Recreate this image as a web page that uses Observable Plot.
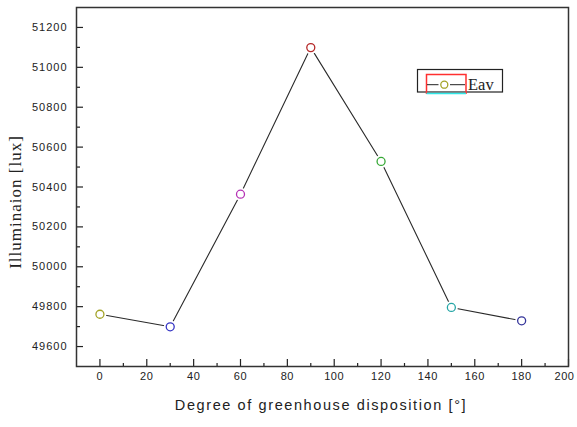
<!DOCTYPE html>
<html>
<head>
<meta charset="utf-8">
<script src="https://cdn.jsdelivr.net/npm/d3@7"></script>
<script src="https://cdn.jsdelivr.net/npm/@observablehq/plot@0.6"></script>
<style>
  html, body { margin: 0; padding: 0; background: #fff; }
  #chart { position: relative; width: 577px; height: 427px; }
  #chart svg g[aria-label="y-axis tick label"] text { letter-spacing: 1px; }
  #chart svg g[aria-label="x-axis tick label"] text { letter-spacing: 0.6px; }
</style>
</head>
<body>
<div id="chart"></div>
<script>
// Data
const degrees = [0, 30, 60, 90, 120, 150, 180];
const illumination = [49762, 49699, 50364, 51099, 50528, 49796, 49729];
const pointColors = ["#a3a326", "#3535c4", "#b532b5", "#b52828", "#36a836", "#26a6a6", "#34349a"];
const xMajorTicks = [0, 20, 40, 60, 80, 100, 120, 140, 160, 180, 200];
const xMinorTicks = [10, 30, 50, 70, 90, 110, 130, 150, 170, 190];
const yMajorTicks = [49600, 49800, 50000, 50200, 50400, 50600, 50800, 51000, 51200];
const yMinorTicks = [49700, 49900, 50100, 50300, 50500, 50700, 50900, 51100];
const seriesName = "Eav";
const xTitle = "Degree of greenhouse disposition [°]";
const yTitle = "Illuminaion [lux]";

const data = degrees.map((d, i) => ({x: d, y: illumination[i], c: pointColors[i]}));

const W = 577, H = 427;
const mL = 76, mR = 9, mT = 7, mB = 61;
const pw = W - mL - mR, ph = H - mT - mB;
const fmt = d => String(d);

const svg = Plot.plot({
  width: W, height: H,
  marginLeft: mL, marginRight: mR, marginTop: mT, marginBottom: mB,
  style: {fontFamily: "'Liberation Sans', Arial, sans-serif", fontSize: "11px", color: "#222", background: "#fff"},
  x: {domain: [-10, 200]},
  y: {domain: [49500, 51300]},
  marks: [
    Plot.axisY(yMajorTicks, {tickSize: 0, tickPadding: 9, label: null, fontSize: 11, tickFormat: fmt}),
    Plot.axisX(xMajorTicks.slice(0, -1), {tickSize: 0, tickPadding: 6, label: null, fontSize: 11, tickFormat: fmt}),
    Plot.axisX(xMajorTicks.slice(-1), {tickSize: 0, tickPadding: 6, label: null, fontSize: 11, tickFormat: fmt, dx: -4}),
    Plot.tickY(yMajorTicks, {y: d => d, insetRight: pw - 7, stroke: "#222", strokeWidth: 1.2}),
    Plot.tickY(yMinorTicks, {y: d => d, insetRight: pw - 4, stroke: "#222", strokeWidth: 1.2}),
    Plot.tickX(xMajorTicks, {x: d => d, insetTop: ph - 7, stroke: "#222", strokeWidth: 1.2}),
    Plot.tickX(xMinorTicks, {x: d => d, insetTop: ph - 3, stroke: "#222", strokeWidth: 1.2}),
    Plot.line(data, {x: "x", y: "y", stroke: "#2a2a2a", strokeWidth: 1.1}),
    Plot.dot(data, {x: "x", y: "y", r: 6.5, fill: "white", stroke: "none"}),
    Plot.dot(data, {x: "x", y: "y", r: 4, fill: "white", stroke: "c", strokeWidth: 1.3}),
    Plot.frame({stroke: "#333", strokeWidth: 1.5})
  ]
});
document.getElementById("chart").appendChild(svg);

const s = d3.select(svg);
// axis titles
s.append("text")
  .attr("x", 321).attr("y", 410)
  .attr("text-anchor", "middle")
  .style("font-family", "'Liberation Sans', Arial, sans-serif")
  .style("font-size", "14.5px")
  .style("letter-spacing", "1.6px")
  .attr("fill", "#222")
  .text(xTitle);
s.append("text")
  .attr("transform", "translate(21,202) rotate(-90)")
  .attr("text-anchor", "middle")
  .style("font-family", "'Liberation Serif', 'Times New Roman', serif")
  .style("font-size", "17px")
  .style("letter-spacing", "1px")
  .attr("fill", "#222")
  .text(yTitle);

// legend
const lg = s.append("g");
lg.append("rect").attr("x", 417.5).attr("y", 69.5).attr("width", 85).attr("height", 22.5)
  .attr("fill", "white").attr("stroke", "#222").attr("stroke-width", 1.2);
lg.append("path").attr("d", "M426.5,94 V74.5 H466 V94").attr("fill", "none").attr("stroke", "#ff3030").attr("stroke-width", 1.5);
lg.append("line").attr("x1", 426.5).attr("x2", 466).attr("y1", 93.5).attr("y2", 93.5).attr("stroke", "#30e8e8").attr("stroke-width", 1.5);
lg.append("line").attr("x1", 427).attr("x2", 438.5).attr("y1", 84.7).attr("y2", 84.7).attr("stroke", "#222").attr("stroke-width", 1);
lg.append("line").attr("x1", 450).attr("x2", 465).attr("y1", 84.7).attr("y2", 84.7).attr("stroke", "#222").attr("stroke-width", 1);
lg.append("circle").attr("cx", 444.3).attr("cy", 84.7).attr("r", 3.5).attr("fill", "white").attr("stroke", pointColors[0]).attr("stroke-width", 1.3);
lg.append("text").attr("x", 468).attr("y", 89.5)
  .attr("text-anchor", "start")
  .style("font-family", "'Liberation Serif', 'Times New Roman', serif")
  .style("font-size", "16.5px")
  .attr("fill", "#222").text(seriesName);
</script>
</body>
</html>
